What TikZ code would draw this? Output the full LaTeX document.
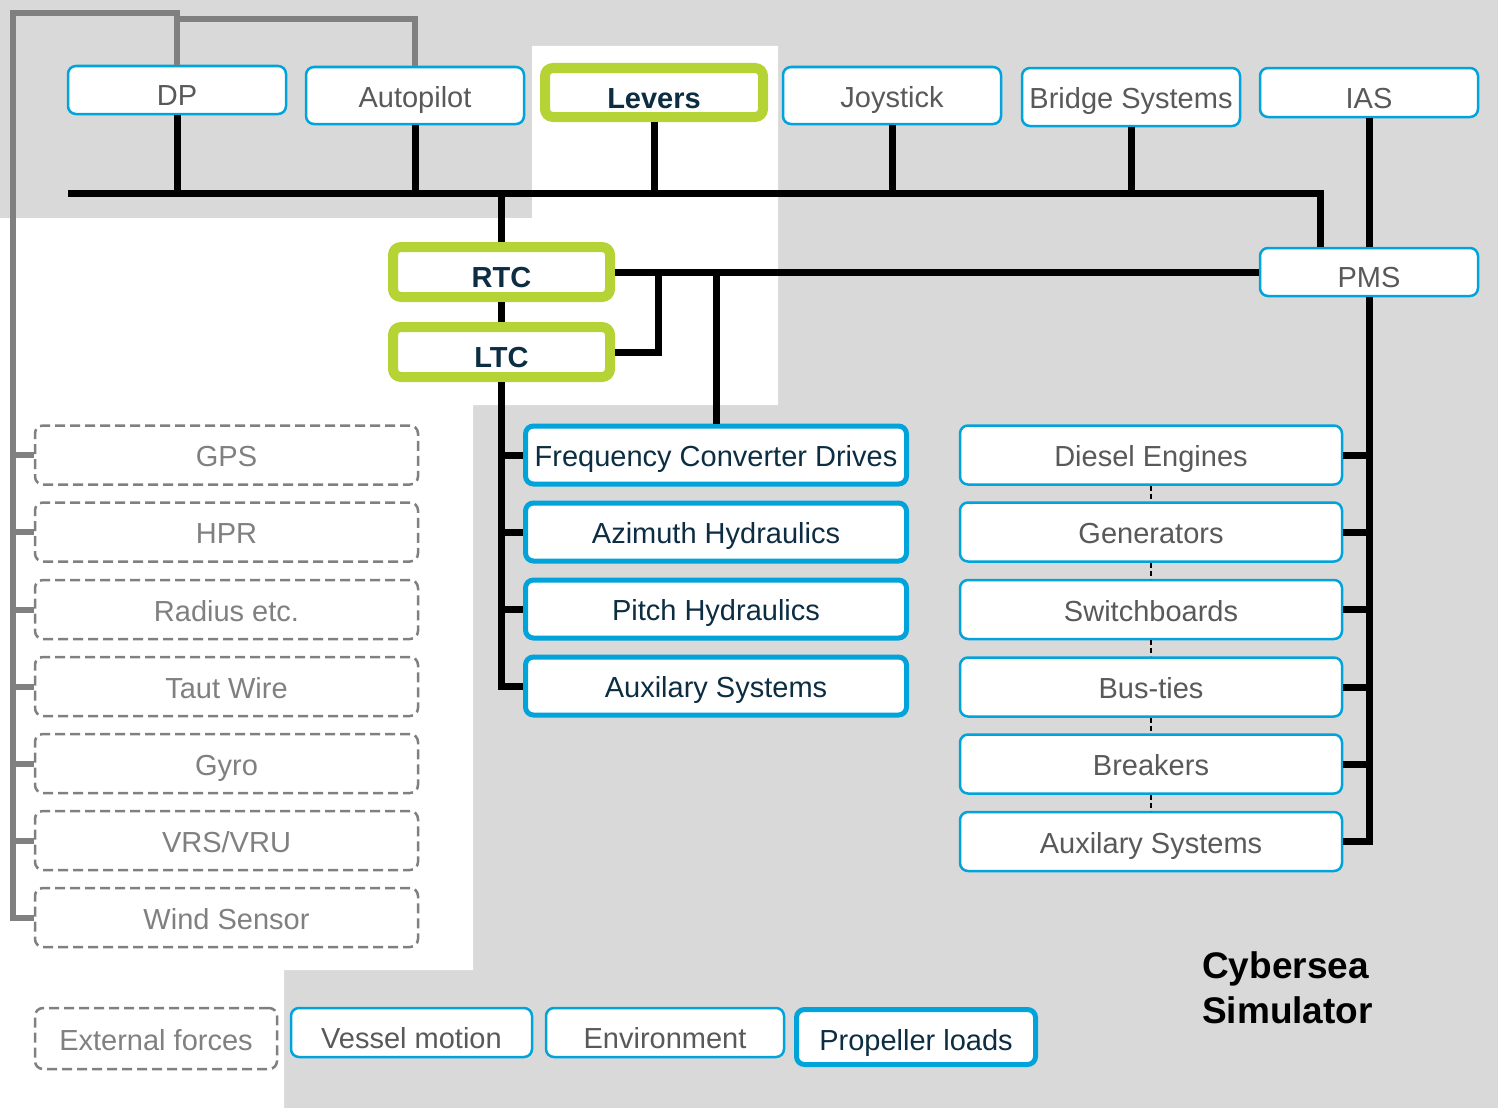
\documentclass[tikz,border=0pt]{standalone}
\usepackage{fontspec}
\setmainfont{Liberation Sans}
\usetikzlibrary{calc}
\colorlet{bgg}{black!15}
\definecolor{cyb}{RGB}{0,163,218}
\definecolor{lim}{RGB}{181,211,52}
\definecolor{nav}{RGB}{12,45,66}
\definecolor{txg}{RGB}{89,89,89}
\definecolor{snc}{RGB}{128,128,128}
\newcommand{\bxf}{\fontsize{29}{34}\selectfont}
\tikzset{pxp/.style={
  x=1pt,
  y=-1pt
}}
\tikzset{box/.style={
  draw=cyb,
  fill=white,
  shape=rectangle,
  rounded corners=8pt,
  line width=2.5pt,
  inner sep=0pt,
  minimum width=218pt,
  text height=23.5pt,
  text depth=0pt,
  text=txg,
  font=\bxf,
}}
\tikzset{low/.style={text height=31.5pt}}
\tikzset{bbx/.style={
  box,
  line width=5pt,
  text=nav,
  minimum width=381pt,
  minimum height=58pt,
}}
\tikzset{gbx/.style={
  box,
  low,
  draw=lim,
  line width=10pt,
  text=nav,
  font=\bxf\bfseries,
  minimum width=217pt,
  minimum height=50pt,
}}
\tikzset{pbx/.style={box,minimum width=382pt,minimum height=59pt}}
\tikzset{sbx/.style={
  box,
  draw=snc,
  dash pattern=on 10pt off 5pt,
  text=snc,
  minimum width=383pt,
  minimum height=59pt,
}}
\tikzset{wire/.style={line width=7pt}}
\tikzset{gwire/.style={line width=6pt,draw=snc}}
\tikzset{dsh/.style={line width=2pt,dash pattern=on 5pt off 3pt}}
\begin{document}
\begin{tikzpicture}[pxp]
    \useasboundingbox (0,0) rectangle (1498,1108);

    %% Background

    \fill[bgg] (0,0) rectangle (1498,1108);
    \fill[white] (0,218) -- (532,218) -- (532,46) -- (778,46) -- (778,405)
      -- (473,405) -- (473,970) -- (284,970) -- (284,1108) -- (0,1108) -- cycle;

    %% Boxes

    % Top row
    \node[box,low,minimum height=48pt] (dp) at (177,90) {DP};
    \node[box,minimum height=57pt] (ap) at (415,95.5) {Autopilot};
    \node[gbx,minimum width=218pt,minimum height=49pt] (lev) at (654,92.5) {Levers};
    \node[box,minimum height=57pt] (joy) at (892,95.5) {Joystick};
    \node[box,minimum height=58pt] (brs) at (1131,97) {Bridge Systems};
    \node[box,low,minimum height=49pt] (ias) at (1369,92.5) {IAS};
    \node[box,low,minimum height=48pt] (pms) at (1369,272) {PMS};

    % Thruster control
    \node[gbx] (rtc) at (501.5,272) {RTC};
    \node[gbx] (ltc) at (501.5,352) {LTC};
    \foreach \n/\y/\t in {fcd/455/Frequency Converter Drives,
        azh/532/Azimuth Hydraulics, pih/609/Pitch Hydraulics,
        aux/686/Auxilary Systems}
      \node[bbx] (\n) at (716,\y) {\t};

    % Power plant
    \foreach \n/\y/\t in {die/455/Diesel Engines, gen/532/Generators,
        swb/609.5/Switchboards, bus/687/Bus-ties, brk/764/Breakers,
        pax/841.5/Auxilary Systems}
      \node[pbx] (\n) at (1151,\y) {\t};

    % Sensors
    \foreach \n/\y/\t in {gps/455/GPS, hpr/532/HPR, rad/609.5/Radius etc.,
        taut/686.5/Taut Wire, gyro/763.5/Gyro, vrs/840.5/{VRS/VRU},
        wind/917.5/Wind Sensor}
      \node[sbx] (\n) at (226.5,\y) {\t};

    % Bottom row
    \node[sbx,minimum width=242pt,minimum height=61pt] (ext) at (156,1038.5) {External forces};
    \node[box,low,minimum width=241pt,minimum height=49pt] (ves) at (411.5,1032.5) {Vessel motion};
    \node[box,low,minimum width=238pt,minimum height=49pt] (env) at (665,1032.5) {Environment};
    \node[bbx,text height=26.5pt,minimum width=239pt,minimum height=55pt] (prl) at (916,1037) {Propeller loads};

    \node[anchor=west,align=left,inner sep=0pt,
      font=\fontsize{37}{45}\selectfont\bfseries] (sim) at (1202,988) {Cybersea\\Simulator};

    %% Connectors

    % Bus
    \coordinate (busl) at (68,193);
    \coordinate (busr) at (1320,193);
    \draw[wire] (busl) -- (busr) -- (busr |- pms.north);
    \foreach \n in {dp,ap,lev,joy,brs}
      \draw[wire] (\n.south) -- (\n.south |- busl);
    \draw[wire] (ias.south) -- (pms.north);

    % RTC and LTC
    \coordinate (ltcj) at (658,272);
    \draw[wire] (rtc.north) -- (rtc.north |- busl);
    \draw[wire] (rtc.south) -- (ltc.north);
    \draw[wire] (rtc.east) -- (pms.west);
    \draw[wire] (ltc.east) -| (ltcj);
    \draw[wire] (fcd.north) -- (fcd.north |- rtc.east);
    \draw[wire] (ltc.south) |- (aux.west);
    \foreach \n in {fcd,azh,pih}
      \draw[wire] (\n.west) -- (\n.west -| ltc.south);

    % PMS
    \draw[wire] (pms.south) |- (pax.east);
    \foreach \n in {die,gen,swb,bus,brk}
      \draw[wire] (\n.east) -- (\n.east -| pms.south);
    \foreach \a/\b in {die/gen,gen/swb,swb/bus,bus/brk,brk/pax}
      \draw[dsh,xshift=-5pt] (\a.south) -- (\b.north);

    % Sensors
    \coordinate (gtop) at (13,13);
    \coordinate (gmid) at (177,19);
    \draw[gwire] (dp.north) |- (gtop) |- (wind.west);
    \draw[gwire] (gmid) -| (ap.north);
    \foreach \n in {gps,hpr,rad,taut,gyro,vrs}
      \draw[gwire] (\n.west) -- (\n.west -| gtop);

  \end{tikzpicture}
\end{document}
